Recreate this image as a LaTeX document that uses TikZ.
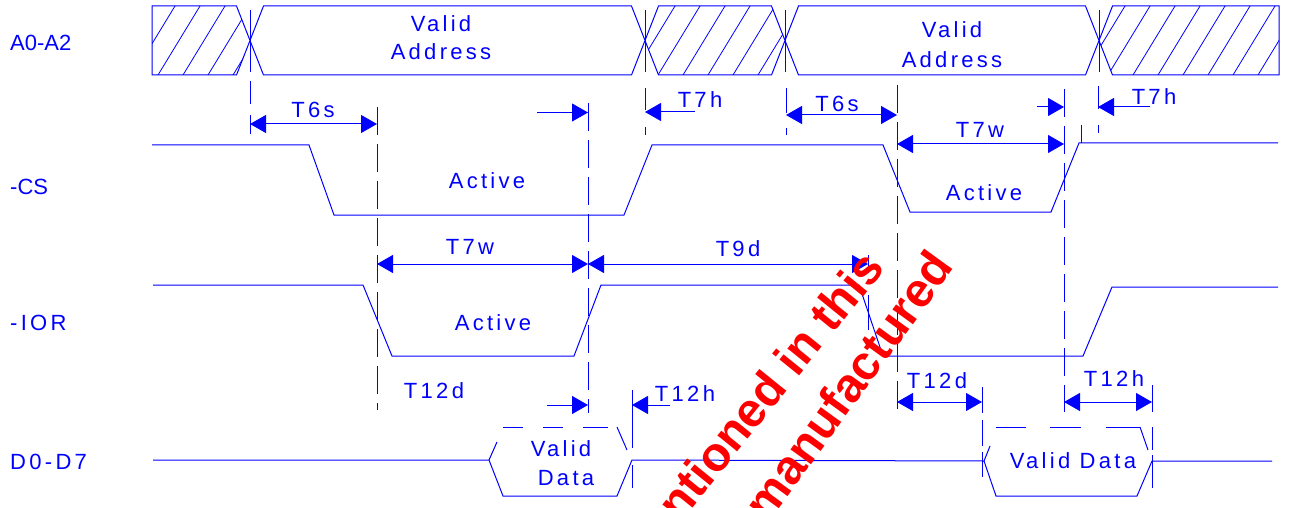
\documentclass[tikz,border=0pt]{standalone}
\usepackage{fontspec}
\setmainfont{Liberation Sans}
\newfontfamily\lsp[LetterSpace=15]{Liberation Sans}
\usetikzlibrary{arrows.meta}
\begin{document}
\begin{tikzpicture}[x=1pt,y=-1pt,
  sig/.style={draw=blue, line width=1pt},
  lbl/.style={text=blue, font=\fontsize{22}{24}\selectfont\lsp, inner sep=0pt},
  lbl0/.style={text=blue, font=\fontsize{22}{24}\selectfont, inner sep=0pt},
  dim/.style={draw=blue, line width=1pt, -{Triangle[length=16pt,width=18pt]}},
  dimboth/.style={draw=blue, line width=1pt, {Triangle[length=16pt,width=18pt]}-{Triangle[length=16pt,width=18pt]}},
  ext/.style={draw=blue, line width=1pt},
  guide/.style={draw=blue, line width=1pt, dash pattern=on 28pt off 9pt},
  hatch/.style={draw=blue, line width=0.8pt},
  wm/.style={text=red, font=\fontsize{48}{56}\selectfont\bfseries, inner sep=0pt}
]
\fill[white] (0,0) rectangle (1299,508);
\useasboundingbox (0,0) rectangle (1299,508);

% ---- A0-A2 hatching
\begin{scope}
\clip (152,6) -- (236.5,6) -- (250,40.5) -- (236.5,75) -- (152,75) -- cycle;
\foreach \k in {-3,...,4} \draw[hatch] ({158+25*\k},75) -- ++(42,-69);
\end{scope}
\begin{scope}
\clip (658.5,6) -- (771.5,6) -- (785,40.5) -- (771.5,75) -- (658.5,75) -- (645,40.5) -- cycle;
\foreach \k in {17,...,26} \draw[hatch] ({158+25*\k},75) -- ++(42,-69);
\end{scope}
\begin{scope}
\clip (1112.5,6) -- (1279,6) -- (1279,75) -- (1112.5,75) -- (1099,40.5) -- cycle;
\foreach \k in {35,...,46} \draw[hatch] ({158+25*\k},75) -- ++(42,-69);
\end{scope}

% ---- A0-A2 bus outline
\draw[sig] (152,6) -- (236.5,6) -- (263.5,75) -- (631.5,75) -- (658.5,6) -- (771.5,6)
  -- (798.5,75) -- (1085.5,75) -- (1112.5,6) -- (1279,6) -- (1279,75) -- (1112.5,75)
  -- (1085.5,6) -- (798.5,6) -- (771.5,75) -- (658.5,75) -- (631.5,6) -- (263.5,6)
  -- (236.5,75) -- (152,75) -- cycle;
\foreach \x in {250,645,785,1099} \draw[ext] (\x,10) -- (\x,72);

% ---- extension ticks
\draw[ext] (250,81) -- (250,104) (250,115) -- (250,134);
\draw[ext] (645,88) -- (645,110) (645,127) -- (645,135);
\draw[ext] (786,88) -- (786,113) (786,128) -- (786,135);
\draw[ext] (1098,86) -- (1098,109) (1098,125) -- (1098,133);
\draw[ext] (1081,125) -- (1081,143);
\draw[ext] (868,255) -- (868,273) (868,295) -- (868,330);
\draw[ext] (632,390) -- (632,448) (632,465) -- (632,488);
\draw[ext] (982,387) -- (982,413) (982,420) -- (982,446) (982,452) -- (982,477);
\draw[ext] (1152,385) -- (1152,412) (1152,427) -- (1152,450) (1152,455) -- (1152,488);

% ---- guide dashed lines
\draw[guide] (377,107) -- (377,410);
\draw[guide] (588,103) -- (588,413);
\draw[guide] (897,85) -- (897,412);
\draw[guide] (1064,89) -- (1064,412);

% ---- signals
\draw[sig] (152,145) -- (309,145) -- (334,215) -- (624,215) -- (652,145) -- (883,145)
  -- (910,212) -- (1051,212) -- (1079,143) -- (1278,143);
\draw[sig] (153,285) -- (363,285) -- (392,356) -- (574,356) -- (601,285) -- (859,285)
  -- (883,356) -- (1083,356) -- (1112,287) -- (1278,287);
\draw[sig] (153,460) -- (489,460) -- (503,496) -- (617,496) -- (632,460) -- (984,461)
  -- (996,496) -- (1137,496) -- (1152,461) -- (1272,461);
\draw[sig] (489,460) -- (497,442);
\draw[sig] (503,427) -- (523,427) (543,427) -- (563,427) (583,427) -- (608,427);
\draw[sig] (617,427) -- (627,450);
\draw[sig] (984,461) -- (990,446);
\draw[sig] (996,427) -- (1026,427) (1050,427) -- (1081,427) (1106,427) -- (1140,427);
\draw[sig] (1140,427) -- (1148,450);

% ---- dimension arrows
\coordinate (a1) at (250,124); \coordinate (b1) at (377,124);
\draw[dimboth] (a1) -- (b1);
\coordinate (a2) at (537,112.5); \coordinate (b2) at (588,112.5);
\draw[dim] (a2) -- (b2);
\coordinate (a3) at (695,112); \coordinate (b3) at (645,112);
\draw[dim] (a3) -- (b3);
\coordinate (a4) at (786,115); \coordinate (b4) at (897,115);
\draw[dimboth] (a4) -- (b4);
\coordinate (a5) at (1037,107); \coordinate (b5) at (1064,107);
\draw[dim] (a5) -- (b5);
\coordinate (a6) at (1150,107); \coordinate (b6) at (1098,107);
\draw[dim] (a6) -- (b6);
\coordinate (a7) at (897,144); \coordinate (b7) at (1064,144);
\draw[dimboth] (a7) -- (b7);
\coordinate (a8) at (377,264); \coordinate (b8) at (588,264); \coordinate (c8) at (868,264);
\draw[dimboth] (a8) -- (b8);
\draw[dimboth] (b8) -- (c8);
\coordinate (a9) at (547,405); \coordinate (b9) at (588,405);
\draw[dim] (a9) -- (b9);
\coordinate (a10) at (670,405); \coordinate (b10) at (632,405);
\draw[dim] (a10) -- (b10);
\coordinate (a11) at (897,402); \coordinate (b11) at (982,402);
\draw[dimboth] (a11) -- (b11);
\coordinate (a12) at (1064,402); \coordinate (b12) at (1152,402);
\draw[dimboth] (a12) -- (b12);

% ---- labels
\node[lbl0, anchor=west] (la) at (10,43) {A0-A2};
\node[lbl0, anchor=west] (lcs) at (10,187) {-CS};
\node[lbl, anchor=west] (lior) at (10,323) {-IOR};
\node[lbl, anchor=west] (ld) at (10,462) {D0-D7};
\node[lbl] (va1a) at (441,23.5) {Valid};
\node[lbl] (va1b) at (441,51.5) {Address};
\node[lbl] (va2a) at (952,30) {Valid};
\node[lbl] (va2b) at (952,59.5) {Address};
\node[lbl] (t6s1) at (313,110) {T6s};
\node[lbl] (t7h1) at (700,100) {T7h};
\node[lbl] (t6s2) at (837,103.5) {T6s};
\node[lbl] (t7h2) at (1154,97) {T7h};
\node[lbl] (t7w1) at (980,130) {T7w};
\node[lbl] (act1) at (487,181) {Active};
\node[lbl] (act2) at (984,193) {Active};
\node[lbl] (t7w2) at (470,247) {T7w};
\node[lbl] (t9d) at (738,249) {T9d};
\node[lbl] (act3) at (493,323) {Active};
\node[lbl] (t12d1) at (434,391) {T12d};
\node[lbl] (t12h1) at (685,394) {T12h};
\node[lbl] (t12d2) at (937,381) {T12d};
\node[lbl] (t12h2) at (1114,379) {T12h};
\node[lbl] (vd1a) at (561,449) {Valid};
\node[lbl] (vd1b) at (566,478) {Data};
\node[lbl] (vd2) at (1073,461) {Valid Data};

% ---- watermark
\begin{scope}
\clip (0,0) rectangle (1299,508);
\node[wm, rotate=51] (wm1) at (770,385) {ntioned in this};
\node[wm, rotate=54] (wm2) at (848,385) {manufactured};
\end{scope}
\end{tikzpicture}
\end{document}
